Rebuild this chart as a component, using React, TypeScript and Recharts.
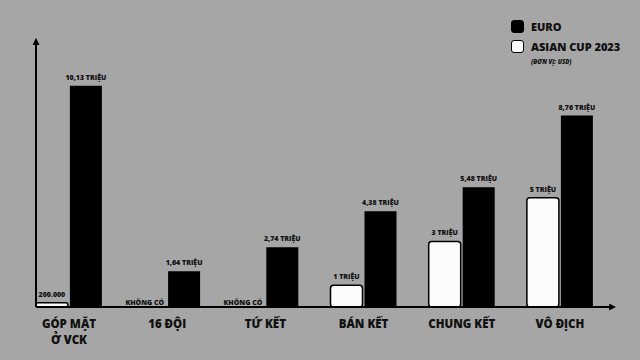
import React from 'react';
import { BarChart, Bar, XAxis, YAxis, Legend, LabelList } from 'recharts';

const categories = ['GÓP MẶT\nỞ VCK', '16 ĐỘI', 'TỨ KẾT', 'BÁN KẾT', 'CHUNG KẾT', 'VÔ ĐỊCH'];
const positions = [0, 1, 2, 3, 4, 5];
const asianCup = [0.2, 0, 0, 1, 3, 5];
const euro = [10.13, 1.64, 2.74, 4.38, 5.48, 8.76];
const asianLabels = ['200.000', 'KHÔNG CÓ', 'KHÔNG CÓ', '1 TRIỆU', '3 TRIỆU', '5 TRIỆU'];
const euroLabels = ['10,13 TRIỆU', '1,64 TRIỆU', '2,74 TRIỆU', '4,38 TRIỆU', '5,48 TRIỆU', '8,76 TRIỆU'];
const noneText = 'KHÔNG CÓ';
const unitNote = '(ĐƠN VỊ: USD)';

const data = categories.map((c, i) => ({
  pos: positions[i],
  name: c,
  asian: asianCup[i],
  euro: euro[i],
  asianLabel: asianLabels[i] === noneText ? '' : asianLabels[i],
  noneLabel: asianLabels[i] === noneText ? noneText : '',
  euroLabel: euroLabels[i],
}));

const FONT = "'Open Sans', 'DejaVu Sans', sans-serif";
const BG = '#a6a6a6';

const ValueLabel = (props: any) => {
  const { x, y, width, value } = props;
  if (!value) return null;
  const cx = Number(x) + Number(width) / 2;
  return (
    <text x={cx} y={Number(y) - 6} textAnchor="middle" fontFamily={FONT} fontWeight={800} fontSize={7} fill="#111">
      {value}
    </text>
  );
};

const NoneLabel = (props: any) => {
  const { x, y, height, value } = props;
  if (!value) return null;
  return (
    <text x={Number(x) - 4} y={Number(y) + Number(height) - 2} textAnchor="end" fontFamily={FONT} fontWeight={800} fontSize={7} fill="#111">
      {value}
    </text>
  );
};

const CategoryTick = (props: any) => {
  const { x, y, payload } = props;
  const label = categories[Math.round(payload.value)] ?? '';
  const lines = label.split('\n');
  return (
    <text x={x} y={y} textAnchor="middle" fontFamily={FONT} fontWeight={800} fontSize={11.5} fill="#111">
      {lines.map((l: string, i: number) => (
        <tspan key={i} x={x} dy={i === 0 ? 21 : 16}>{l}</tspan>
      ))}
    </text>
  );
};

const LegendContent = (props: any) => {
  const items = [...(props.payload || [])].reverse();
  return (
    <div style={{ position: 'relative', width: 130, height: 60, fontFamily: FONT }}>
      {items.map((it: any, i: number) => (
        <div key={i} style={{ position: 'absolute', left: 0, top: i * 20, height: 14, display: 'flex', alignItems: 'center' }}>
          <span style={{ display: 'inline-block', boxSizing: 'border-box', width: 13, height: 13, borderRadius: 3, background: it.payload?.fill ?? it.color, border: '1.5px solid #000', marginRight: 7 }} />
          <span style={{ fontSize: 11, fontWeight: 800, color: '#111', whiteSpace: 'nowrap' }}>{it.value}</span>
        </div>
      ))}
      <div style={{ position: 'absolute', left: 20, top: 39, fontSize: 6, fontStyle: 'italic', fontWeight: 800, color: '#111', whiteSpace: 'nowrap' }}>{unitNote}</div>
    </div>
  );
};

export default function App() {
  return (
    <div style={{ position: 'absolute', left: 0, top: 0, width: 640, height: 360, background: BG }}>
      <BarChart
        width={640}
        height={360}
        data={data}
        margin={{ top: 40, right: 26, left: 35, bottom: 13 }}
        barSize={32}
        barGap={2}
      >
        <defs>
          <marker id="arrowHead" viewBox="0 0 10 10" refX="7" refY="5" markerWidth="3.5" markerHeight="3.5" orient="auto-start-reverse">
            <path d="M0,0 L10,5 L0,10 z" fill="#000" />
          </marker>
        </defs>
        <XAxis
          dataKey="pos"
          type="number"
          domain={[-0.336, 5.55]}
          ticks={positions}
          allowDataOverflow
          height={40}
          tickSize={0}
          tickMargin={0}
          tickLine={false}
          axisLine={{ stroke: '#000', strokeWidth: 2, markerEnd: 'url(#arrowHead)' }}
          tick={<CategoryTick />}
          interval={0}
        />
        <YAxis
          domain={[0, 12.22]}
          allowDataOverflow
          width={1}
          tick={false}
          tickLine={false}
          axisLine={{ stroke: '#000', strokeWidth: 2, markerStart: 'url(#arrowHead)' }}
        />
        <Legend
          layout="horizontal"
          verticalAlign="middle"
          align="center"
          wrapperStyle={{ top: 19, left: 511, width: 130 }}
          content={<LegendContent />}
        />
        <Bar dataKey="asian" name="ASIAN CUP 2023" fill="#fbfbfb" stroke="#000" strokeWidth={1.5} radius={3} isAnimationActive={false}>
          <LabelList dataKey="asianLabel" content={<ValueLabel />} />
        </Bar>
        <Bar dataKey="euro" name="EURO" fill="#000" isAnimationActive={false}>
          <LabelList dataKey="euroLabel" content={<ValueLabel />} />
          <LabelList dataKey="noneLabel" content={<NoneLabel />} />
        </Bar>
      </BarChart>
    </div>
  );
}
